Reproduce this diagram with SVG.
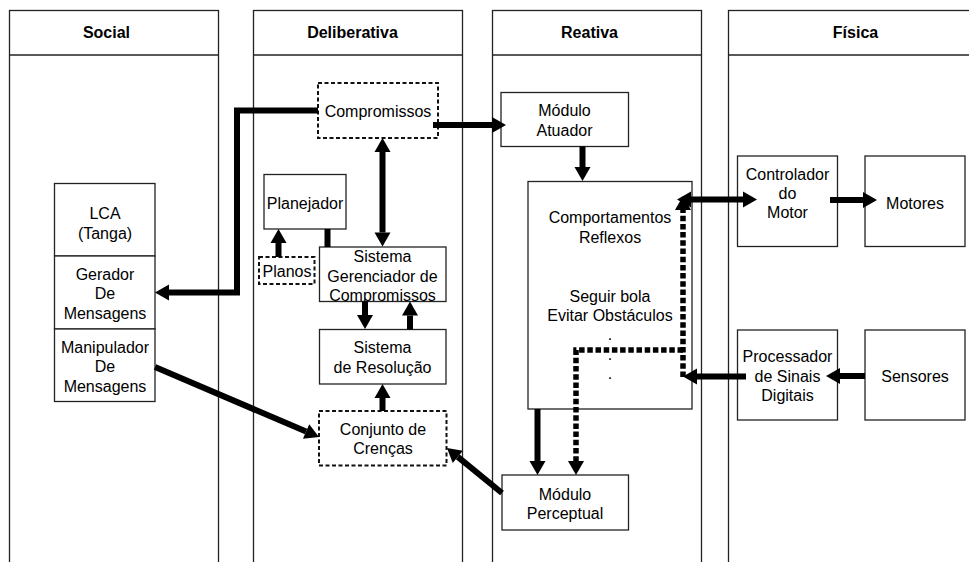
<svg xmlns="http://www.w3.org/2000/svg" width="969" height="562" viewBox="0 0 969 562">
  <style>
    text { font-family: "Liberation Sans", Arial, sans-serif; font-size: 16px; fill: #000; text-anchor: middle; }
    .hd { font-weight: bold; }
    .lane { fill: none; stroke: #222; stroke-width: 1.3; }
    .box { fill: #fff; stroke: #222; stroke-width: 1.3; }
    .dash { fill: #fff; stroke: #111; stroke-width: 2; stroke-dasharray: 4 2.5; }
    .conn { fill: none; stroke: #000; stroke-width: 6; }
    .arr { marker-end: url(#head); }
    .both { marker-start: url(#head); marker-end: url(#head); }
    .dot { stroke-width: 5.5; stroke-dasharray: 5.5 2.7; }
  </style>
  <defs>
    <marker id="head" markerUnits="userSpaceOnUse" markerWidth="14" markerHeight="16" refX="0" refY="8" orient="auto-start-reverse" overflow="visible">
      <path d="M0,0 L14,8 L0,16 z" fill="#000"/>
    </marker>
  </defs>

  <!-- swimlanes -->
  <g id="lane-social">
    <rect class="lane" x="9.5" y="10.5" width="209" height="560"/>
    <line class="lane" x1="9.5" y1="55" x2="218.5" y2="55"/>
    <text class="hd" x="106.5" y="38">Social</text>
  </g>
  <g id="lane-deliberativa">
    <rect class="lane" x="253.5" y="10.5" width="209" height="560"/>
    <line class="lane" x1="253.5" y1="55" x2="462.5" y2="55"/>
    <text class="hd" x="352.5" y="38">Deliberativa</text>
  </g>
  <g id="lane-reativa">
    <rect class="lane" x="492.5" y="10.5" width="209" height="560"/>
    <line class="lane" x1="492.5" y1="55" x2="701.5" y2="55"/>
    <text class="hd" x="589.5" y="38">Reativa</text>
  </g>
  <g id="lane-fisica">
    <rect class="lane" x="728.5" y="10.5" width="300" height="560"/>
    <line class="lane" x1="728.5" y1="55" x2="969" y2="55"/>
    <text class="hd" x="855.5" y="38">Física</text>
  </g>

  <!-- Social -->
  <g id="lca">
    <rect class="box" x="54.5" y="183.5" width="100.5" height="72.5"/>
    <text x="105" y="219">LCA</text>
    <text x="105" y="238.5">(Tanga)</text>
  </g>
  <g id="gerador">
    <rect class="box" x="54.5" y="256" width="100.5" height="73"/>
    <text x="105" y="279.5">Gerador</text>
    <text x="105" y="299">De</text>
    <text x="105" y="318.5">Mensagens</text>
  </g>
  <g id="manipulador">
    <rect class="box" x="54.5" y="329" width="100.5" height="72.5"/>
    <text x="105" y="352.5">Manipulador</text>
    <text x="105" y="372">De</text>
    <text x="105" y="391.5">Mensagens</text>
  </g>

  <!-- Deliberativa -->
  <g id="compromissos">
    <rect class="dash" x="318" y="83" width="120" height="55"/>
    <text x="378" y="116.5">Compromissos</text>
  </g>
  <g id="planejador">
    <rect class="box" x="264" y="174.5" width="82" height="54.5"/>
    <text x="305" y="208.5">Planejador</text>
  </g>
  <g id="planos">
    <rect class="dash" x="259" y="257" width="55.5" height="27"/>
    <text x="287" y="277">Planos</text>
  </g>
  <g id="gerenciador">
    <rect class="box" x="319.5" y="247" width="126.5" height="54.5"/>
    <text x="382.5" y="262">Sistema</text>
    <text x="382.5" y="281.5">Gerenciador de</text>
    <text x="382.5" y="300.5">Compromissos</text>
  </g>
  <g id="resolucao">
    <rect class="box" x="319.5" y="329.5" width="126.5" height="54.5"/>
    <text x="382.5" y="353">Sistema</text>
    <text x="382.5" y="372.5">de Resolução</text>
  </g>
  <g id="crencas">
    <rect class="dash" x="319" y="411" width="127.5" height="54.5"/>
    <text x="383" y="435">Conjunto de</text>
    <text x="383" y="454">Crenças</text>
  </g>

  <!-- Reativa -->
  <g id="atuador">
    <rect class="box" x="501" y="92.5" width="127.5" height="54"/>
    <text x="564.5" y="116">Módulo</text>
    <text x="564.5" y="135.5">Atuador</text>
  </g>
  <g id="comportamentos">
    <rect class="box" x="528" y="181.5" width="164" height="227.5"/>
    <text x="610" y="223">Comportamentos</text>
    <text x="610" y="243">Reflexos</text>
    <text x="610" y="301.5">Seguir bola</text>
    <text x="610" y="321">Evitar Obstáculos</text>
    <text x="610" y="340">.</text>
    <text x="610" y="360">.</text>
    <text x="610" y="378.5">.</text>
  </g>
  <g id="perceptual">
    <rect class="box" x="502" y="475" width="126.5" height="55"/>
    <text x="565" y="499.5">Módulo</text>
    <text x="565" y="518.5">Perceptual</text>
  </g>

  <!-- Física -->
  <g id="controlador">
    <rect class="box" x="737.5" y="156" width="100" height="90.5"/>
    <text x="787.5" y="179.5">Controlador</text>
    <text x="787.5" y="199">do</text>
    <text x="787.5" y="218">Motor</text>
  </g>
  <g id="motores">
    <rect class="box" x="865" y="156" width="100" height="90.5"/>
    <text x="915" y="209">Motores</text>
  </g>
  <g id="processador">
    <rect class="box" x="737.5" y="330" width="100" height="90"/>
    <text x="787.5" y="361.5">Processador</text>
    <text x="787.5" y="381.5">de Sinais</text>
    <text x="787.5" y="400.5">Digitais</text>
  </g>
  <g id="sensores">
    <rect class="box" x="865" y="330" width="100" height="90"/>
    <text x="915" y="382">Sensores</text>
  </g>

  <!-- connectors -->
  <g id="connectors">
    <path class="conn arr" d="M318,110.5 H237 V292.5 H169"/>
    <path class="conn arr" d="M433,125 H492"/>
    <path class="conn both" d="M382.5,152 V232.5"/>
    <path class="conn arr" d="M278.5,257 V243"/>
    <path class="conn" d="M327.5,229 V247"/>
    <path class="conn arr" d="M365,301.5 V315"/>
    <path class="conn arr" d="M410,329.5 V315.5"/>
    <path class="conn arr" d="M382.5,411 V398"/>
    <path class="conn arr" d="M155,367 L306.1,431.5"/>
    <path class="conn arr" d="M502,493 L457.8,456.9"/>
    <path class="conn arr" d="M582.5,146.5 V167"/>
    <path class="conn arr" d="M537.5,409 V461"/>
    <path class="conn dot arr" d="M683,350 H576 V461"/>
    <path class="conn dot arr" d="M683,377 V210"/>
    <path class="conn both" d="M691,199.5 H743"/>
    <path class="conn arr" d="M830,200 H863"/>
    <path class="conn arr" d="M746,376.5 H697"/>
    <path class="conn arr" d="M865,376 H840"/>
  </g>
</svg>
